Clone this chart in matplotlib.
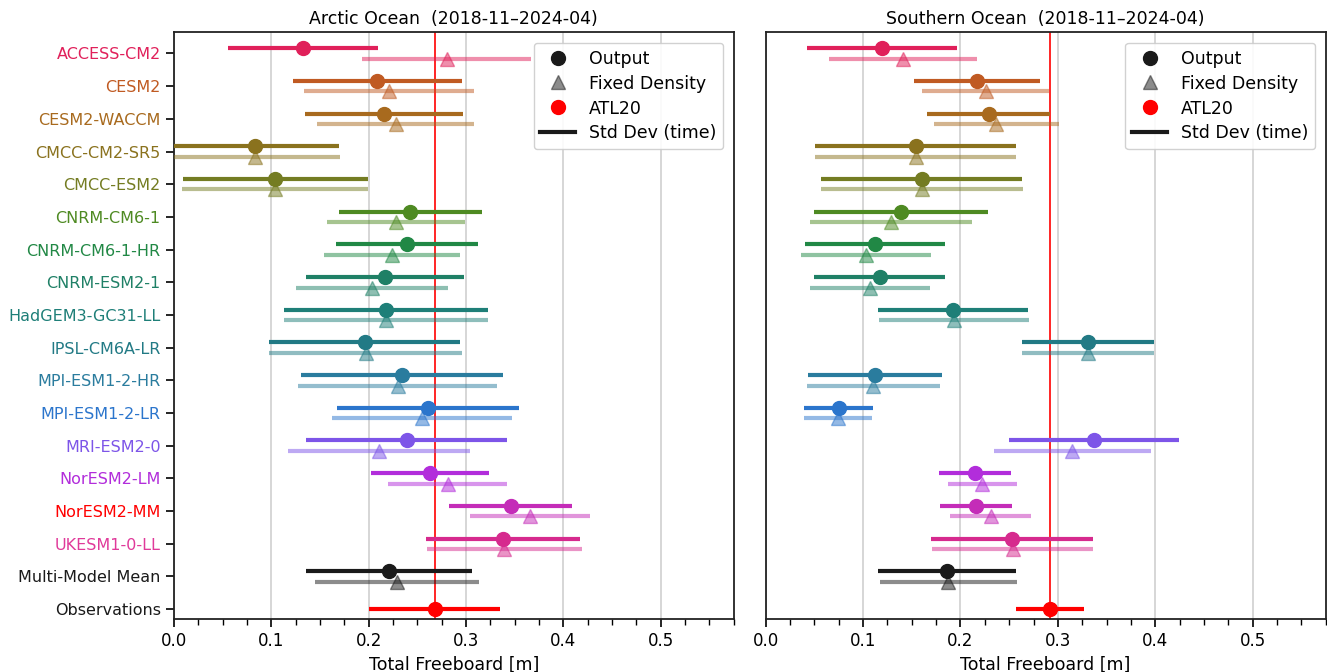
import numpy as np
import matplotlib
matplotlib.use("Agg")
import matplotlib.pyplot as plt
from matplotlib.lines import Line2D

models = ["ACCESS-CM2", "CESM2", "CESM2-WACCM", "CMCC-CM2-SR5", "CMCC-ESM2",
          "CNRM-CM6-1", "CNRM-CM6-1-HR", "CNRM-ESM2-1", "HadGEM3-GC31-LL",
          "IPSL-CM6A-LR", "MPI-ESM1-2-HR", "MPI-ESM1-2-LR", "MRI-ESM2-0",
          "NorESM2-LM", "NorESM2-MM", "UKESM1-0-LL", "Multi-Model Mean"]

colors = ["#e0205a", "#c05a22", "#a86a1e", "#8a721e", "#747c22",
          "#4e8a22", "#218845", "#1f8066", "#1e7f78", "#227a85",
          "#2a7c9e", "#2b75cc", "#7d55e8", "#b22ddb", "#c42cb8",
          "#d62a8e", "#1a1a1a"]
label_colors = colors[:14] + ["#ff0000", "#e03a9a", "#1a1a1a"]

# Arctic Ocean
arc_out = [0.133, 0.209, 0.216, 0.083, 0.104, 0.243, 0.239, 0.217, 0.218,
           0.196, 0.234, 0.261, 0.239, 0.263, 0.346, 0.338, 0.221]
arc_out_sd = [0.077, 0.087, 0.081, 0.0865, 0.095, 0.0735, 0.073, 0.081, 0.1045,
              0.098, 0.1035, 0.093, 0.1035, 0.061, 0.063, 0.0795, 0.085]
arc_fix = [0.280, 0.221, 0.228, 0.083, 0.104, 0.228, 0.224, 0.203, 0.218,
           0.197, 0.230, 0.255, 0.211, 0.281, 0.366, 0.3395, 0.229]
arc_fix_sd = [0.087, 0.087, 0.0805, 0.0875, 0.0955, 0.071, 0.070, 0.078, 0.105,
              0.099, 0.102, 0.0925, 0.0935, 0.061, 0.0615, 0.080, 0.0845]
arc_obs, arc_obs_sd = 0.268, 0.0674

# Southern Ocean
sou_out = [0.119, 0.217, 0.229, 0.154, 0.160, 0.139, 0.112, 0.117, 0.192,
           0.331, 0.112, 0.075, 0.337, 0.215, 0.216, 0.2526, 0.186]
sou_out_sd = [0.077, 0.065, 0.063, 0.103, 0.1035, 0.0895, 0.072, 0.067, 0.077,
              0.068, 0.069, 0.0355, 0.0875, 0.037, 0.0366, 0.083, 0.071]
sou_fix = [0.141, 0.226, 0.237, 0.154, 0.1605, 0.129, 0.103, 0.107, 0.193,
           0.331, 0.1105, 0.074, 0.315, 0.2225, 0.231, 0.2536, 0.1876]
sou_fix_sd = [0.076, 0.065, 0.064, 0.103, 0.104, 0.083, 0.0665, 0.062, 0.077,
              0.068, 0.068, 0.035, 0.081, 0.0356, 0.0415, 0.083, 0.070]
sou_obs, sou_obs_sd = 0.292, 0.035

panels = [("Arctic Ocean  (2018-11\u20132024-04)", arc_out, arc_out_sd, arc_fix, arc_fix_sd, arc_obs, arc_obs_sd),
          ("Southern Ocean  (2018-11\u20132024-04)", sou_out, sou_out_sd, sou_fix, sou_fix_sd, sou_obs, sou_obs_sd)]

fig = plt.figure(figsize=(13.27, 6.72), dpi=100)
ax1 = fig.add_axes([0.131, 0.079, 0.422, 0.873])
ax2 = fig.add_axes([0.577, 0.079, 0.422, 0.873])

labels = models + ["Observations"]
ypos = np.arange(len(labels))
off = 0.16

for ax, (title, out, out_sd, fix, fix_sd, obs, obs_sd) in zip([ax1, ax2], panels):
    for i in range(len(models)):
        c = colors[i]
        ax.errorbar(out[i], ypos[i] - off, xerr=out_sd[i], fmt='o', color=c,
                    ms=10, elinewidth=3, capsize=0, zorder=4)
        ax.errorbar(fix[i], ypos[i] + off, xerr=fix_sd[i], fmt='^', color=c,
                    ms=10, elinewidth=3, capsize=0, alpha=0.5, zorder=3)
    ax.errorbar(obs, ypos[-1], xerr=obs_sd, fmt='o', color='red',
                ms=10, elinewidth=3, capsize=0, zorder=4)
    ax.axvline(obs, color='red', lw=1.2, zorder=2)

    ax.set_xlim(0, 0.575)
    ax.set_ylim(len(labels) - 0.7, -0.65)
    ax.set_xticks([0, 0.1, 0.2, 0.3, 0.4, 0.5])
    ax.set_xticks(np.arange(0, 0.576, 0.025), minor=True)
    ax.grid(axis='x', which='major', color='#d0d0d0', lw=1.2, zorder=0)
    ax.set_axisbelow(True)
    ax.set_xlabel("Total Freeboard [m]", fontsize=12.5)
    ax.set_title(title, fontsize=12.5)
    ax.tick_params(axis='x', which='major', labelsize=12, length=6, width=1.2)
    ax.tick_params(axis='x', which='minor', length=4, width=1.0)
    for s in ax.spines.values():
        s.set_linewidth(1.3)
        s.set_color('#222222')

    handles = [Line2D([], [], marker='o', ls='none', color='#1a1a1a', ms=10),
               Line2D([], [], marker='^', ls='none', color='#1a1a1a', alpha=0.5, ms=10),
               Line2D([], [], marker='o', ls='none', color='red', ms=10),
               Line2D([], [], color='#1a1a1a', lw=3)]
    ax.legend(handles, ["Output", "Fixed Density", "ATL20", "Std Dev (time)"],
              loc='upper right', fontsize=12.5, framealpha=0.9, labelspacing=0.4,
              borderaxespad=0.6)

ax1.set_yticks(ypos)
ax1.set_yticklabels(labels, fontsize=11.5)
ax1.tick_params(axis='y', length=6, width=1.2)
for t, c in zip(ax1.get_yticklabels(), label_colors + ["#1a1a1a"]):
    t.set_color(c)
ax2.set_yticks(ypos)
ax2.set_yticklabels([])
ax2.tick_params(axis='y', left=False)

fig.savefig("out.png", dpi=100)
